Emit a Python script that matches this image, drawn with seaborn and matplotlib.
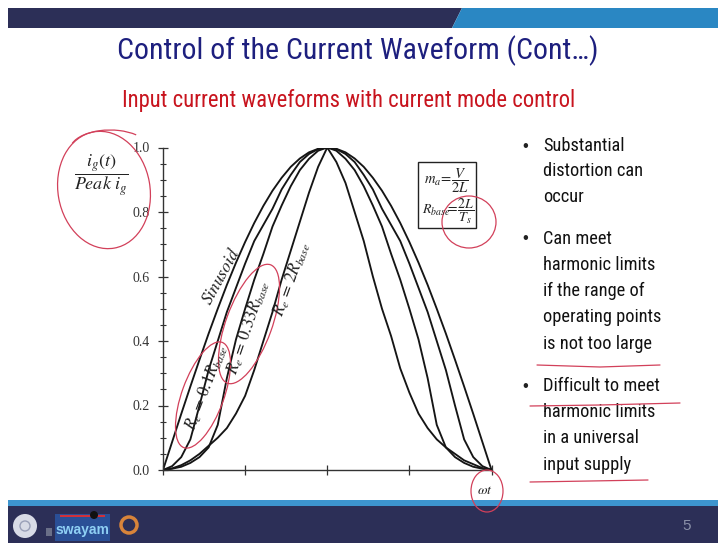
import matplotlib
matplotlib.use("Agg")
import numpy as np
import pandas as pd
import matplotlib.pyplot as plt
import matplotlib.font_manager as fm
import seaborn as sns
from matplotlib.patches import Ellipse, Rectangle, Polygon, Circle, Arc
from matplotlib.ticker import MultipleLocator, FixedLocator, NullFormatter

# ---- waveform data: normalized input current vs. line angle (degrees) ----
theta_deg = [0, 5, 10, 15, 20, 25, 30, 35, 40, 45, 50, 55, 60, 65, 70, 75, 80, 85, 90,
             95, 100, 105, 110, 115, 120, 125, 130, 135, 140, 145, 150, 155, 160, 165, 170, 175, 180]

sinusoid = [0.000, 0.087, 0.174, 0.259, 0.342, 0.423, 0.500, 0.574, 0.643, 0.707, 0.766, 0.819,
            0.866, 0.906, 0.940, 0.966, 0.985, 0.996, 1.000,
            0.996, 0.985, 0.966, 0.940, 0.906, 0.866, 0.819, 0.766, 0.707, 0.643, 0.574, 0.500,
            0.423, 0.342, 0.259, 0.174, 0.087, 0.000]

re_01_rbase = [0.000, 0.012, 0.040, 0.095, 0.200, 0.310, 0.400, 0.490, 0.565, 0.640, 0.710, 0.760,
               0.810, 0.870, 0.915, 0.955, 0.980, 0.995, 1.000,
               0.995, 0.980, 0.955, 0.915, 0.870, 0.810, 0.760, 0.710, 0.640, 0.565, 0.490, 0.400,
               0.310, 0.200, 0.095, 0.040, 0.012, 0.000]

re_033_rbase = [0.000, 0.004, 0.010, 0.022, 0.040, 0.070, 0.140, 0.285, 0.405, 0.500, 0.590, 0.670,
                0.755, 0.820, 0.880, 0.930, 0.965, 0.990, 1.000,
                0.990, 0.965, 0.930, 0.880, 0.820, 0.755, 0.670, 0.590, 0.500, 0.405, 0.285, 0.140,
                0.070, 0.040, 0.022, 0.010, 0.004, 0.000]

re_2_rbase = [0.000, 0.005, 0.015, 0.030, 0.050, 0.075, 0.100, 0.130, 0.175, 0.230, 0.310, 0.400,
              0.490, 0.590, 0.680, 0.770, 0.860, 0.940, 1.000,
              0.955, 0.890, 0.800, 0.710, 0.600, 0.500, 0.415, 0.315, 0.240, 0.175, 0.130, 0.095,
              0.070, 0.050, 0.030, 0.018, 0.006, 0.000]

curve_names = ["Sinusoid", "Re = 0.1 Rbase", "Re = 0.33 Rbase", "Re = 2 Rbase"]
curve_values = [sinusoid, re_01_rbase, re_033_rbase, re_2_rbase]

y_ticks = [0.0, 0.2, 0.4, 0.6, 0.8, 1.0]
y_tick_labels = ["0.0", "0.2", "0.4", "0.6", "0.8", "1.0"]
x_ticks = [0, 45, 90, 135, 180]

bullets = [
    ["Substantial", "distortion can", "occur"],
    ["Can meet", "harmonic limits", "if the range of", "operating points", "is not too large"],
    ["Difficult to meet", "harmonic limits", "in a universal", "input supply"],
]

frames = []
for name, vals in zip(curve_names, curve_values):
    frames.append(pd.DataFrame({"theta": theta_deg, "ig": vals, "curve": name}))
df = pd.concat(frames, ignore_index=True)


# ---- fonts: prefer a narrow sans face for the slide text ----
def pick_narrow_font():
    prefs = ["Liberation Sans Narrow", "Arial Narrow", "Roboto Condensed", "Open Sans Condensed",
             "Noto Sans Condensed", "DejaVu Sans Condensed"]
    entries = fm.fontManager.ttflist
    for p in prefs:
        for f in entries:
            if f.name == p and f.style == "normal" and f.weight in (400, "normal", "regular"):
                return fm.FontProperties(fname=f.fname)
    for f in entries:
        if f.stretch in ("condensed", "semi-condensed", "extra-condensed") and f.style == "normal" \
                and f.weight in (400, "normal", "regular") and "Mono" not in f.name \
                and "Serif" not in f.name and "CJK" not in f.name:
            return fm.FontProperties(fname=f.fname)
    return fm.FontProperties(family="Liberation Sans")


narrow = pick_narrow_font()

# ---- figure ----
sns.set_theme(style="white")
plt.rcParams["mathtext.fontset"] = "stix"
plt.rcParams["font.family"] = ["Liberation Serif", "DejaVu Serif"]

W, H = 718, 543
fig = plt.figure(figsize=(W / 100, H / 100), dpi=100)
fig.patch.set_facecolor("white")
renderer = fig.canvas.get_renderer()


def fitted_text(axis, x, y, s, width_px, color, ha="left", size0=14):
    fp = narrow.copy()
    fp.set_size(size0)
    t = axis.text(x, y, s, fontproperties=fp, color=color, ha=ha, va="center")
    w = t.get_window_extent(renderer).width
    fp.set_size(size0 * width_px / w)
    t.set_fontproperties(fp)
    return t


# pixel-space layer for slide decorations
bg = fig.add_axes([0, 0, 1, 1], zorder=0)
bg.set_xlim(0, W)
bg.set_ylim(H, 0)
bg.axis("off")

navy = "#2c2f57"
light_blue = "#2a87c3"
bg.add_patch(Polygon([[8, 8], [462, 8], [452, 28], [8, 28]], closed=True, color=navy, lw=0))
bg.add_patch(Polygon([[462, 8], [718, 8], [718, 28], [452, 28]], closed=True, color=light_blue, lw=0))
bg.add_patch(Rectangle((8, 500), 710, 6, color="#3d95cf", lw=0))
bg.add_patch(Rectangle((8, 506), 710, 37, color=navy, lw=0))
# footer logos
bg.add_patch(Circle((25, 526), 12, color="#d8dbe6", lw=0))
bg.add_patch(Circle((25, 526), 5, fill=False, ec="#9aa0b8", lw=1))
bg.add_patch(Rectangle((46, 528), 6, 8, color="#6a6f88", lw=0))
bg.add_patch(Rectangle((55, 514), 55, 27, color="#2a4f96", lw=0))
bg.text(82, 530, "swayam", color="#8fd0f5", fontsize=10, ha="center", va="center",
        family=["Liberation Sans", "DejaVu Sans"], fontweight="bold")
bg.add_patch(Rectangle((60, 515), 45, 2, color="#d0303a", lw=0))
bg.add_patch(Circle((94, 515), 4, color="#111111", lw=0))
bg.add_patch(Circle((129, 525), 8, fill=False, ec="#d8843a", lw=2.5))
bg.text(687, 526, "5", color="#8a90a8", fontsize=11, ha="center", va="center",
        family=["Liberation Sans", "DejaVu Sans"])

# titles
fitted_text(bg, 117, 51, "Control of the Current Waveform (Cont\u2026)", 481, "#1d1f7e", size0=24)
fitted_text(bg, 122, 100, "Input current waveforms with current mode control", 455, "#c8141e", size0=16)

# bullet list
bullet_rows = [146, 171, 197, 239, 265, 291, 317, 344, 386, 412, 438, 465]
bullet_texts = []
row = 0
for group in bullets:
    for li, line in enumerate(group):
        yy = bullet_rows[row]
        if li == 0:
            bg.text(525, yy, "\u2022", color="#222222", fontsize=12, ha="center", va="center",
                    family=["Liberation Sans", "DejaVu Sans"])
        fp = narrow.copy()
        fp.set_size(15)
        bullet_texts.append(bg.text(543, yy, line, color="#111111", fontproperties=fp,
                                    ha="left", va="center"))
        row += 1

# rescale bullet text so "operating points" spans its measured width
ref = [t for t in bullet_texts if t.get_text() == "operating points"][0]
scale = 119 / ref.get_window_extent(renderer).width
for t in bullet_texts:
    fp = t.get_fontproperties().copy()
    fp.set_size(15 * scale)
    t.set_fontproperties(fp)

# ---- main chart ----
ax = fig.add_axes([163 / W, (H - 470) / H, 328.5 / W, 322.5 / H], zorder=1)
ax.patch.set_alpha(0)
for name in curve_names:
    sub = df[df["curve"] == name]
    sns.lineplot(data=sub, x="theta", y="ig", estimator=None, sort=False, color="#151515",
                 lw=1.35, ax=ax, legend=False)
ax.set_xlim(0, 180)
ax.set_ylim(0, 1.0)
for s in ["top", "right"]:
    ax.spines[s].set_visible(False)
for s in ["left", "bottom"]:
    ax.spines[s].set_color("#333333")
    ax.spines[s].set_linewidth(1.0)
ax.set_xlabel("")
ax.set_ylabel("")
ax.xaxis.set_major_locator(FixedLocator(x_ticks))
ax.xaxis.set_major_formatter(NullFormatter())
ax.yaxis.set_major_locator(FixedLocator(y_ticks))
ax.set_yticklabels(y_tick_labels)
ax.yaxis.set_minor_locator(MultipleLocator(0.05))
ax.tick_params(axis="both", which="major", direction="inout", length=7, width=0.9,
               color="#333333", labelsize=10, labelcolor="#333333", pad=6)
ax.tick_params(axis="y", which="minor", direction="inout", length=4, width=0.8, color="#333333")
ax.tick_params(left=True, bottom=True, which="both")

# ---- overlay: labels and annotations ----
ov = fig.add_axes([0, 0, 1, 1], zorder=3)
ov.set_xlim(0, W)
ov.set_ylim(H, 0)
ov.axis("off")
ov.patch.set_alpha(0)

ov.text(101, 175, r"$\dfrac{i_g(t)}{Peak\ i_g}$", fontsize=13, ha="center", va="center", color="#222222")
ov.text(221, 277, r"$Sinusoid$", fontsize=12.5, rotation=61, ha="center", va="center", color="#222222")
ov.text(207, 387, r"$R_e\,=\,0.1R_{base}$", fontsize=12, rotation=69, ha="center", va="center", color="#222222")
ov.text(248, 327, r"$R_e\,=\,0.33R_{base}$", fontsize=12, rotation=71, ha="center", va="center", color="#222222")
ov.text(292, 279, r"$R_e\,=\,2R_{base}$", fontsize=12, rotation=70, ha="center", va="center", color="#222222")
ov.text(485, 490, r"$\omega t$", fontsize=10, ha="center", va="center", color="#222222")

ov.add_patch(Rectangle((418, 162), 58, 66, fill=False, ec="#222222", lw=1.0))
ov.text(446, 181, r"$m_a\!=\!\dfrac{V}{2L}$", fontsize=10.5, ha="center", va="center", color="#222222")
ov.text(448, 211, r"$R_{base}\!\!=\!\dfrac{2L}{T_s}$", fontsize=10, ha="center", va="center", color="#222222")

red = "#d2405a"
ov.add_patch(Ellipse((104, 190), 92, 118, angle=-10, fill=False, ec=red, lw=0.9))
ov.add_patch(Arc((110, 150), 80, 40, theta1=190, theta2=330, ec=red, lw=0.9))
ov.add_patch(Ellipse((203, 395), 112, 42, angle=-70, fill=False, ec=red, lw=0.9))
ov.add_patch(Ellipse((249, 324), 126, 46, angle=-70, fill=False, ec=red, lw=0.9))
ov.add_patch(Ellipse((469, 222), 54, 52, angle=0, fill=False, ec=red, lw=0.9))
ov.add_patch(Ellipse((487, 491), 32, 42, angle=0, fill=False, ec=red, lw=0.9))
ov.plot([537, 600, 660], [365, 367, 365], color=red, lw=0.9)
ov.plot([530, 600, 680], [406, 405, 403], color=red, lw=0.9)
ov.plot([530, 590, 648], [482, 481, 480], color=red, lw=0.9)

fig.savefig("out.png", dpi=100, facecolor="white")
